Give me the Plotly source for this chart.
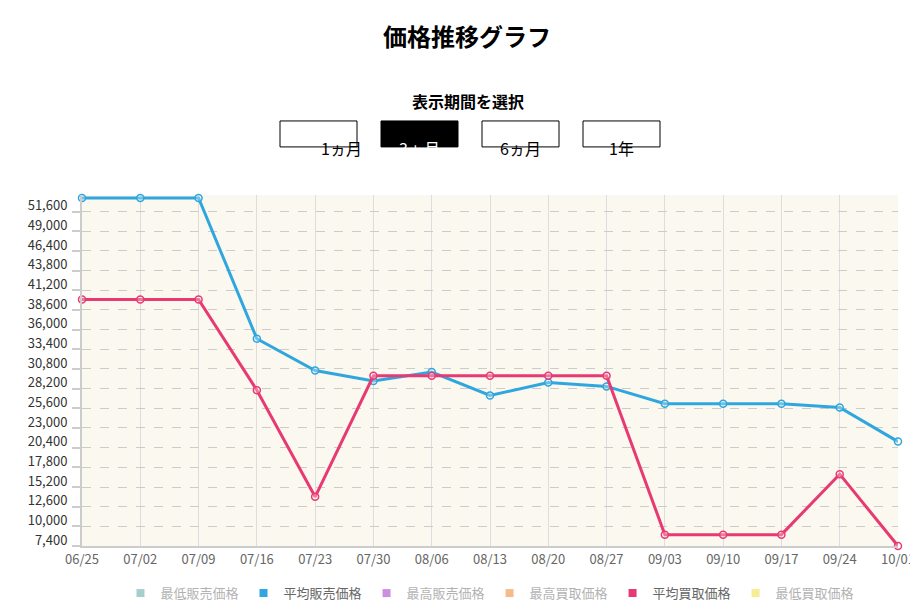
import plotly.graph_objects as go

dates = ["06/25", "07/02", "07/09", "07/16", "07/23", "07/30", "08/06", "08/13",
         "08/20", "08/27", "09/03", "09/10", "09/17", "09/24", "10/01"]
avg_sell = [53400, 53400, 53400, 34800, 30600, 29200, 30400, 27300,
            29000, 28500, 26200, 26200, 26200, 25700, 21200]
avg_buy = [40000, 40000, 40000, 28000, 13900, 29900, 29900, 29900,
           29900, 29900, 8900, 8900, 8900, 16900, 7400]
legend_names = ["最低販売価格", "平均販売価格", "最高販売価格", "最高買取価格", "平均買取価格", "最低買取価格"]
legend_colors = ["#4d9e9a", "#2fa6de", "#9b1fc4", "#ef7a1a", "#e83a72", "#f2dd2a"]
legend_hidden = [True, False, True, True, False, True]
yticks = list(range(7400, 51601, 2600))
buttons = ["1ヵ月", "3ヵ月", "6ヵ月", "1年"]

fig = go.Figure()
fig.add_trace(go.Scatter(x=dates, y=avg_sell, mode="lines+markers", showlegend=False,
                         line=dict(color="#2fa6de", width=3), cliponaxis=False,
                         marker=dict(size=7, color="rgba(255,255,255,0.3)", line=dict(color="#2fa6de", width=1.5))))
fig.add_trace(go.Scatter(x=dates, y=avg_buy, mode="lines+markers", showlegend=False,
                         line=dict(color="#e83a72", width=3), cliponaxis=False,
                         marker=dict(size=7, color="rgba(255,255,255,0.3)", line=dict(color="#e83a72", width=1.5))))
for name, col, hid in zip(legend_names, legend_colors, legend_hidden):
    fig.add_trace(go.Scatter(x=[None], y=[None], mode="markers", name=name,
                             visible="legendonly" if hid else True,
                             marker=dict(symbol="square", size=8, color=col)))

for i, b in enumerate(buttons):
    x0 = 272 + i * 101
    sel = b == "3ヵ月"
    fig.add_shape(type="rect", xref="paper", yref="paper",
                  x0=(x0 - 74) / 816, x1=(x0 + 77 - 74) / 816,
                  y0=(552 - 137) / 365, y1=(552 - 110) / 365,
                  fillcolor="black" if sel else "white", line=dict(color="black", width=1))
    fig.add_annotation(x=(x0 + 38.5 - 74) / 816, y=(552 - 123.5) / 365, xref="paper", yref="paper",
                       text=b, showarrow=False, font=dict(size=16, color="white" if sel else "black"))

fig.add_annotation(x=(460 - 74) / 816, y=(552 - 75) / 365, xref="paper", yref="paper",
                   text="<b>表示期間を選択</b>", showarrow=False, font=dict(size=16, color="black"))

fig.update_layout(
    width=918, height=612,
    title=dict(text="<b>価格推移グラフ</b>", x=0.5, xanchor="center", y=0.965,
               font=dict(size=24, color="black")),
    font=dict(family="Noto Sans CJK JP, sans-serif"),
    plot_bgcolor="#faf8ef", paper_bgcolor="white",
    margin=dict(l=74, r=28, t=187, b=60),
    legend=dict(orientation="h", x=0.5, xanchor="center", y=(552 - 601) / 365, yanchor="middle",
                font=dict(size=13, color="#666"), itemclick=False, itemwidth=30),
    xaxis=dict(showgrid=True, gridcolor="#dddddd", tickfont=dict(size=13, color="#666"),
               showline=True, linecolor="#cccccc", linewidth=2, range=[0, 14], automargin=False),
    yaxis=dict(range=[7400, 53800], tickvals=yticks, tickformat=",", gridcolor="#cccccc",
               griddash="dash", tickfont=dict(size=13, color="#333"),
               ticks="outside", ticklen=8, tickcolor="#cccccc", tickwidth=2,
               showline=True, linecolor="#cccccc", linewidth=2, zeroline=False,
               ticklabelshift=-6, ticklabelstandoff=2, automargin=False),
)
fig.write_html("out.html")
